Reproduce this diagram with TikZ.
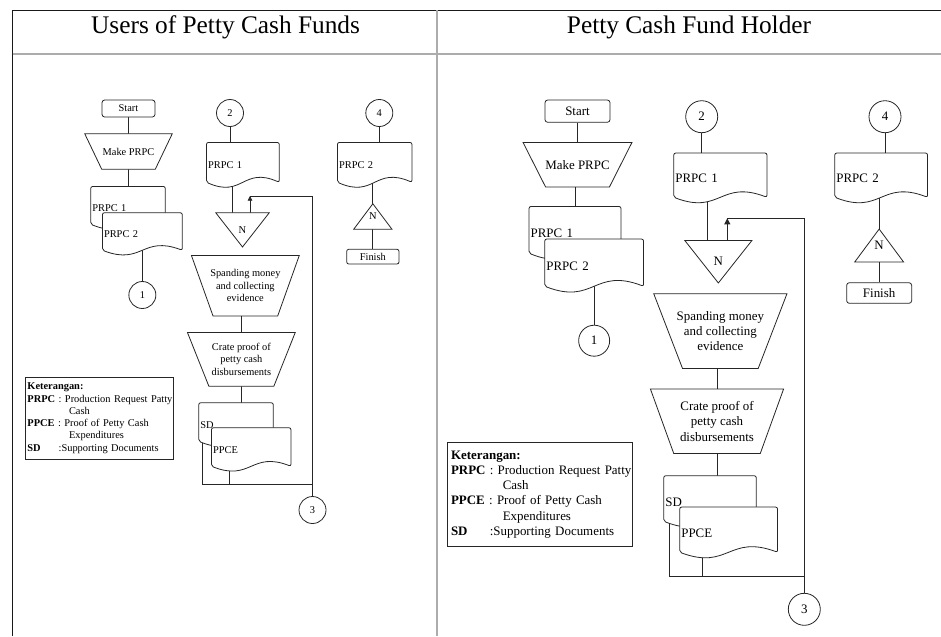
\documentclass[tikz,border=0pt]{standalone}
\usepackage{fontspec}
\setmainfont{Liberation Serif}
\usetikzlibrary{calc,arrows.meta}
\pgfdeclarelayer{back}
\pgfdeclarelayer{shapes}
\pgfsetlayers{back,shapes,main}
\newcommand\fsL{\fontsize{7.8}{9.2}\selectfont}
\newcommand\fsR{\fontsize{9.7}{11.4}\selectfont}
\newcommand\dtext[1]{\smash{\raisebox{-0.58em}{#1}}}
\newcommand\lline[1]{\makebox[0pt][l]{#1}}
\newcommand\legendbody{\lline{\textbf{Keterangan:}}\\
\lline{\textbf{PRPC} : Production Request Patty}\\
\lline{\hspace*{4em}Cash}\\
\lline{\textbf{PPCE} : Proof of Petty Cash}\\
\lline{\hspace*{4em}Expenditures}\\
\lline{\makebox[3em][l]{\textbf{SD}}:Supporting Documents}}
\newcommand\docshape[1]{%
  \begin{pgfonlayer}{shapes}
  \draw[shp, rounded corners=1.5pt] let \p1=(#1.north west), \p2=(#1.south east) in
    (\x2,\y2) .. controls ({0.5*(\x1+\x2)},{\y2+0.4*(\y1-\y2)}) and ({0.5*(\x1+\x2)},{\y2-0.4*(\y1-\y2)}) .. (\x1,\y2) -- (\x1,\y1) -- (\x2,\y1) -- cycle;
  \end{pgfonlayer}}
\newcommand\trapshape[2]{%
  \begin{pgfonlayer}{shapes}
  \draw[shp] (#1.north west) -- (#1.north east) -- ([xshift=-#2]#1.south east) -- ([xshift=#2]#1.south west) -- cycle;
  \end{pgfonlayer}}
\newcommand\tridown[1]{%
  \begin{pgfonlayer}{shapes}
  \draw[shp] (#1.north west) -- (#1.north east) -- (#1.south) -- cycle;
  \end{pgfonlayer}}
\newcommand\triup[1]{%
  \begin{pgfonlayer}{shapes}
  \draw[shp] (#1.south west) -- (#1.south east) -- (#1.north) -- cycle;
  \end{pgfonlayer}}
\tikzset{
  ln/.style={draw=black!85, line width=0.6pt},
  shp/.style={draw=black!85, line width=0.6pt, fill=white},
  geo/.style={rectangle, draw=none, inner sep=0pt, align=center},
  docn/.style={rectangle, draw=none, inner ysep=0pt, inner xsep=1pt, align=left},
  conn/.style={circle, draw=black!85, line width=0.6pt, fill=white, inner sep=0pt},
  term/.style={rectangle, rounded corners=2pt, draw=black!85, line width=0.6pt, fill=white, inner sep=0pt},
  legend/.style={rectangle, draw=black!85, line width=0.6pt, anchor=north west, align=left, inner ysep=0pt},
  arrL/.style={ln, -{Triangle[length=3.5pt,width=3.5pt]}},
  arrR/.style={ln, -{Triangle[length=4.5pt,width=4.5pt]}},
  head/.style={font=\fontsize{19}{23}\selectfont, anchor=base, inner sep=0pt}
}
\begin{document}
\begin{tikzpicture}[x=0.75pt,y=-0.75pt]
\useasboundingbox (0,0) rectangle (941,636);
% frame
\draw[black!90, line width=1pt] (941,10.3) -- (12.7,10.3) -- (12.7,636);
\draw[gray!65, line width=1.4pt] (12.7,54) -- (941,54);
\draw[gray!65, line width=1.4pt] (436.7,10.3) -- (436.7,636);
\node[head] (h1) at (225.6,33) {Users of Petty Cash Funds};
\node[head] (h2) at (689,33) {Petty Cash Fund Holder};

% ================= LEFT PANEL =================
\node[term, minimum width=39.75pt, minimum height=12.75pt, font=\fsL] (startL) at (128.5,108.5) {Start};
\node[geo, minimum width=65.25pt, minimum height=26.25pt, font=\fsL] (makeL) at (128.5,151.5) {Make PRPC};
\trapshape{makeL}{12.75pt}
\node[docn, text width=53.5pt, minimum height=28pt, font=\fsL] (prpc1L) at (128,205.35) {\dtext{PRPC 1}};
\docshape{prpc1L}
\node[docn, text width=57.5pt, minimum height=27.75pt, font=\fsL] (prpc2L) at (142.35,231.5) {\dtext{PRPC 2}};
\docshape{prpc2L}
\node[conn, minimum size=20.25pt, font=\fsL] (circle1L) at (142.35,295) {1};

\node[conn, minimum size=20.25pt, font=\fsL] (circle2L) at (230,113) {2};
\node[docn, text width=52.2pt, minimum height=29.5pt, font=\fsL] (prpc1bL) at (242.85,162.35) {\dtext{PRPC 1}};
\docshape{prpc1bL}
\node[geo, minimum width=39.75pt, minimum height=25.3pt, font=\fsL] (nL) at (242.5,229.85) {N};
\tridown{nL}
\node[geo, minimum width=80.5pt, minimum height=45pt, font=\fsL] (spandL) at (245.35,285.7) {Spanding money\\and collecting\\evidence};
\trapshape{spandL}{16.2pt}
\node[geo, minimum width=80.5pt, minimum height=40pt, font=\fsL] (crateL) at (241.35,359.35) {Crate proof of\\petty cash\\disbursements};
\trapshape{crateL}{16.1pt}
\node[docn, text width=53.5pt, minimum height=28.5pt, font=\fsL] (sdL) at (236,422) {\dtext{SD}};
\docshape{sdL}
\node[docn, text width=57.25pt, minimum height=28.5pt, font=\fsL] (ppceL) at (251.2,447) {\dtext{PPCE}};
\docshape{ppceL}
\node[conn, minimum size=20.25pt, font=\fsL] (circle3L) at (312.5,510) {3};
\coordinate (jL) at (312.5,484);
\coordinate (aL) at (250,196);
\coordinate (c2L) at ($(nL.north west)+(17,0)$);
\coordinate (sL) at ($(sdL.south west)+(3.7,0)$);
\coordinate (pL) at ($(ppceL.south west)!0.23!(ppceL.south east)$);

\node[conn, minimum size=20.25pt, font=\fsL] (circle4L) at (379.3,113) {4};
\node[docn, text width=53.5pt, minimum height=29.5pt, font=\fsL] (prpc2bL) at (374.7,162.35) {\dtext{PRPC 2}};
\docshape{prpc2bL}
\node[geo, minimum width=28.3pt, minimum height=18.75pt, font=\fsL] (n2L) at (372.85,216.5) {N};
\triup{n2L}
\node[term, rounded corners=1.5pt, minimum width=39.2pt, minimum height=11pt, font=\fsL] (finishL) at (372.85,256.65) {Finish};

\node[legend, minimum width=111pt, minimum height=61.7pt, text width=108.4pt, inner xsep=1.3pt, font=\fsL] (legL) at (25.3,376.7) {\legendbody};

% ================= RIGHT PANEL =================
\node[term, minimum width=48.75pt, minimum height=16.7pt, font=\fsR] (startR) at (577.5,111.15) {Start};
\node[geo, minimum width=81.3pt, minimum height=33pt, font=\fsR] (makeR) at (577.5,164.7) {Make PRPC};
\trapshape{makeR}{16.9pt}
\node[docn, text width=66.55pt, minimum height=34.7pt, font=\fsR] (prpc1R) at (575,229.85) {\dtext{PRPC 1}};
\docshape{prpc1R}
\node[docn, text width=71.7pt, minimum height=35pt, font=\fsR] (prpc2R) at (594.15,262.65) {\dtext{PRPC 2}};
\docshape{prpc2R}
\node[conn, minimum size=23.25pt, font=\fsR] (circle1R) at (594.15,340.7) {1};

\node[conn, minimum size=24pt, font=\fsR] (circle2R) at (701.7,116.7) {2};
\node[docn, text width=67.5pt, minimum height=32.8pt, font=\fsR] (prpc1cR) at (720.35,175.15) {\dtext{PRPC 1}};
\docshape{prpc1cR}
\node[geo, minimum width=50pt, minimum height=31.5pt, font=\fsR] (nR) at (718.35,261.7) {N};
\tridown{nR}
\node[geo, minimum width=99.5pt, minimum height=55.7pt, font=\fsR] (spandR) at (720.35,331.15) {Spanding money\\and collecting\\evidence};
\trapshape{spandR}{21.6pt}
\node[geo, minimum width=99.45pt, minimum height=48pt, font=\fsR] (crateR) at (717,421.3) {Crate proof of\\petty cash\\disbursements};
\trapshape{crateR}{17.5pt}
\node[docn, text width=67pt, minimum height=33.75pt, font=\fsR] (sdR) at (710,498.5) {\dtext{SD}};
\docshape{sdR}
\node[docn, text width=71pt, minimum height=33.5pt, font=\fsR] (ppceR) at (728.65,529.65) {\dtext{PPCE}};
\docshape{ppceR}
\node[conn, minimum size=24pt, font=\fsR] (circle3R) at (804.3,609.3) {3};
\coordinate (jR) at (804.3,576.7);
\coordinate (aR) at (727.3,218.3);
\coordinate (c2R) at ($(nR.north west)+(22.3,0)$);
\coordinate (sR) at ($(sdR.south west)+(5.3,0)$);
\coordinate (pR) at ($(ppceR.south west)!0.23!(ppceR.south east)$);

\node[conn, minimum size=24pt, font=\fsR] (circle4R) at (885,116.7) {4};
\node[docn, text width=67.2pt, minimum height=32.8pt, font=\fsR] (prpc2cR) at (881.15,175.15) {\dtext{PRPC 2}};
\docshape{prpc2cR}
\node[geo, minimum width=36.2pt, minimum height=24.3pt, font=\fsR] (n2R) at (879.15,245.5) {N};
\triup{n2R}
\node[term, minimum width=48.75pt, minimum height=15.45pt, font=\fsR] (finishR) at (879.15,293) {Finish};

\node[legend, minimum width=138.75pt, minimum height=77.55pt, text width=133.75pt, inner xsep=2.5pt, font=\fsR] (legR) at (447.3,442.3) {\legendbody};

% ================= CONNECTORS =================
\begin{pgfonlayer}{back}
% left
\draw[ln] (startL) -- (makeL);
\draw[ln] (makeL.center) -- (makeL.center |- prpc1L.center);
\draw[ln] (prpc2L.center) -- (circle1L);
\draw[ln] (circle2L) -- (circle2L |- prpc1bL.center);
\draw[ln] (c2L) -- (c2L |- prpc1bL.center);
\draw[arrL] (aL |- nL.north) -- (aL);
\draw[ln] (jL) |- (aL);
\draw[ln] (crateL.north |- spandL.center) -- (crateL.center);
\draw[ln] (crateL.center) -- (crateL.center |- sdL.center);
\draw[ln] (sL) |- (jL);
\draw[ln] (pL) -- (pL |- jL);
\draw[ln] (jL) -- (circle3L);
\draw[ln] (circle4L) -- (circle4L |- prpc2bL.center);
\draw[ln] (n2L.center |- prpc2bL.center) -- (n2L.center);
\draw[ln] (n2L) -- (finishL);
% right
\draw[ln] (startR) -- (makeR);
\draw[ln] (prpc1R.center |- makeR.center) -- (prpc1R.center);
\draw[ln] (prpc2R.center) -- (circle1R);
\draw[ln] (circle2R) -- (circle2R |- prpc1cR.center);
\draw[ln] (c2R) -- (c2R |- prpc1cR.center);
\draw[arrR] (aR |- nR.north) -- (aR);
\draw[ln] (jR) |- (aR);
\draw[ln] (crateR.north |- spandR.center) -- (crateR.center);
\draw[ln] (crateR.center) -- (crateR.center |- sdR.center);
\draw[ln] (sR) |- (jR);
\draw[ln] (pR) -- (pR |- jR);
\draw[ln] (jR) -- (circle3R);
\draw[ln] (circle4R) -- (circle4R |- prpc2cR.center);
\draw[ln] (n2R.center |- prpc2cR.center) -- (n2R.center);
\draw[ln] (n2R) -- (finishR);
\end{pgfonlayer}
\end{tikzpicture}
\end{document}
